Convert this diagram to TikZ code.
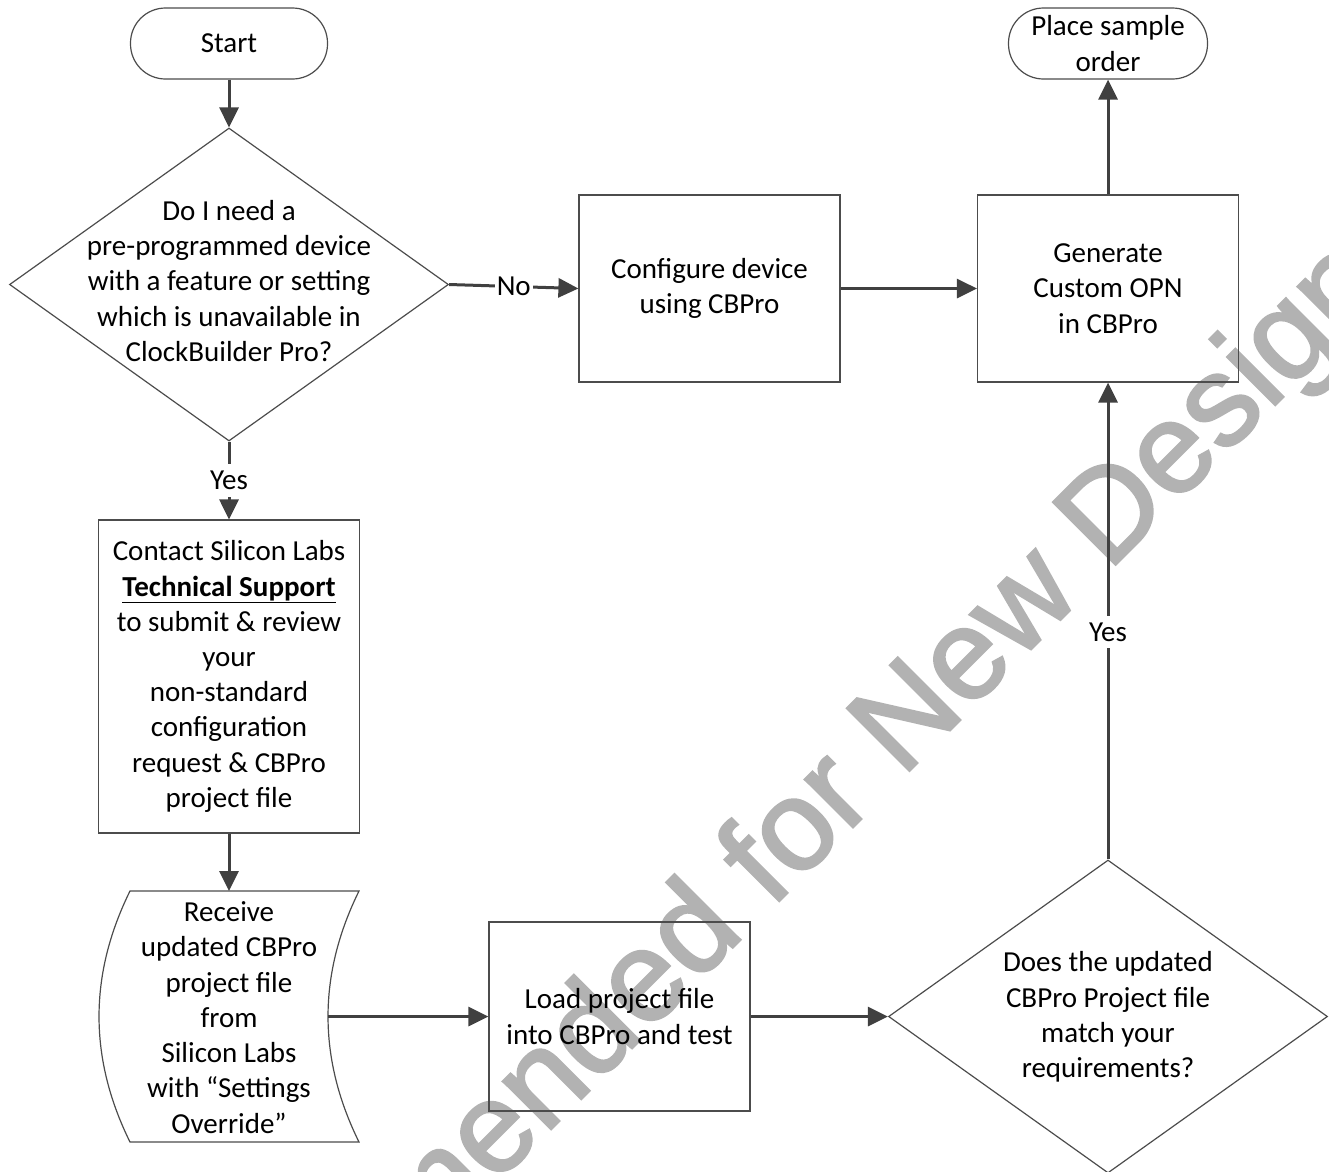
\documentclass[tikz,border=0pt]{standalone}
\usepackage{fontspec}
\setmainfont{Carlito}
\newfontfamily\wmfont[FakeBold=2]{Liberation Sans}
\usetikzlibrary{shapes.geometric,arrows.meta}
\begin{document}
\begin{tikzpicture}[x=1pt,y=-1pt,
  txt/.style={font=\fontsize{29}{35.2}\selectfont, align=center, inner sep=0pt},
  box/.style={draw=black!70, line width=1.2pt, rectangle, minimum width=261pt, txt},
  term/.style={draw=black!70, line width=1.2pt, rectangle, rounded corners=35pt, txt},
  dia/.style={draw=black!70, line width=1.2pt, diamond, minimum width=439pt, minimum height=313pt, inner sep=0pt},
  conn/.style={draw=black!75, line width=3pt, -{Triangle[length=20pt,width=19pt]}},
  lbl/.style={txt, fill=white, inner xsep=2pt, inner ysep=7pt},
  wmark/.style={font=\wmfont\fontsize{128}{150}\selectfont, text=black!30, rotate=45, anchor=base, inner sep=0pt}
]
\useasboundingbox (0,0) rectangle (1329,1171);
\clip (0,0) rectangle (1329,1171);

% watermark
\node[wmark] (wm) at (701,979) {Not Recommended for New Designs};

% nodes
\node[term, minimum width=197pt, minimum height=71pt] (start) at (229,43.5) {Start};
\node[dia] (d1) at (229,284.5) {};
\node[txt] (d1t) at (229,281) {Do I need a\\pre-programmed device\\with a feature or setting\\which is unavailable in\\ClockBuilder Pro?};
\node[box, minimum height=187pt] (cfg) at (709.5,288.5) {Configure device\\using CBPro};
\node[box, minimum height=187pt] (gen) at (1108,288.5) {Generate\\Custom OPN\\in CBPro};
\node[term, minimum width=199pt, minimum height=71pt] (place) at (1108,43.5) {Place sample\\order};
\node[box, minimum height=313pt] (contact) at (229,676.5) {Contact Silicon Labs\\\textbf{\underline{Technical Support}}\\to submit \& review\\your\\non-standard\\configuration\\request \& CBPro\\project file};

% stored-data shape
\draw[draw=black!70, line width=1.2pt]
  (130,891) -- (359,891)
  .. controls (317.7,974.7) and (317.7,1058.3) .. (359,1142)
  -- (130,1142)
  .. controls (88.7,1058.3) and (88.7,974.7) .. (130,891) -- cycle;
\node[txt] (rcv) at (229,1017.5) {Receive\\updated CBPro\\project file\\from\\Silicon Labs\\with “Settings\\Override”};
\coordinate (rcvN) at (229,891);
\coordinate (rcvE) at (328,1016.5);

\node[box, minimum height=189pt] (load) at (619.5,1016.5) {Load project file\\into CBPro and test};
\node[dia] (d2) at (1108,1016.5) {};
\node[txt] (d2t) at (1108,1017) {Does the updated\\CBPro Project file\\match your\\requirements?};

% connectors
\draw[conn] (start.south) -- (d1.north);
\draw[conn] (d1.east) -- node[lbl] {No} (cfg.west);
\draw[conn] (d1.south) -- node[lbl] {Yes} (contact.north);
\draw[conn] (cfg.east) -- (gen.west);
\draw[conn] (gen.north) -- (place.south);
\draw[conn] (contact.south) -- (rcvN);
\draw[conn] (rcvE) -- (load.west);
\draw[conn] (load.east) -- (d2.west);
\draw[conn] (d2.north) -- node[lbl, pos=0.477] {Yes} (gen.south);
\end{tikzpicture}
\end{document}
